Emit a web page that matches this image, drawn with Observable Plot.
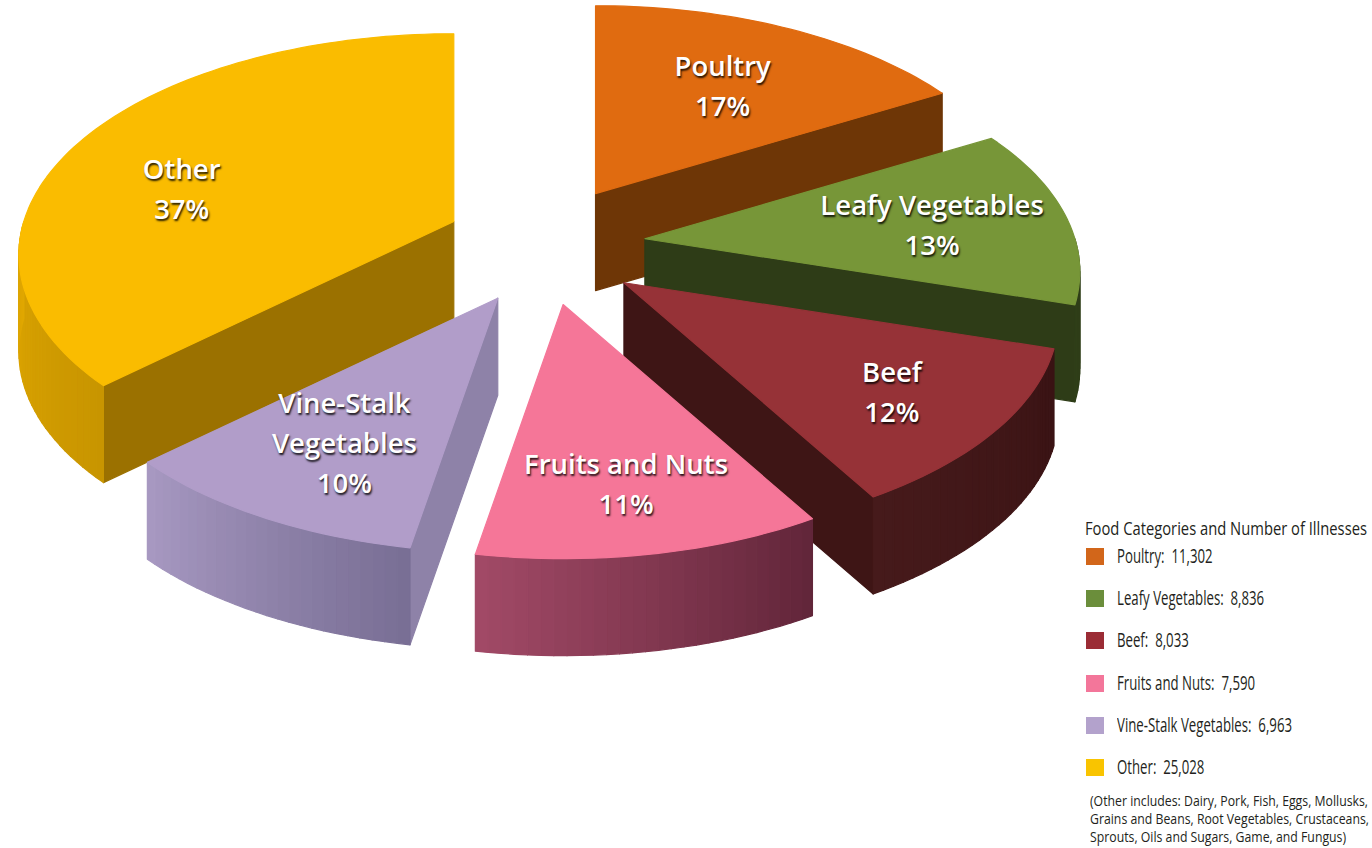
<!DOCTYPE html>
<html>
<head>
<meta charset="utf-8">
<script src="https://cdn.jsdelivr.net/npm/d3@7"></script>
<script src="https://cdn.jsdelivr.net/npm/@observablehq/plot@0.6"></script>
<style>
  html, body { margin: 0; padding: 0; background: #ffffff; }
  #wrap { position: relative; width: 1372px; height: 848px; overflow: hidden; background: #fff; }
  #wrap svg g[aria-label="text"] text { text-shadow: 1px 2px 2px rgba(0,0,0,0.85); }
  #legend { position: absolute; left: 0; top: 0; width: 1372px; height: 848px; pointer-events: none;
            font-family: "Open Sans", "Noto Sans", sans-serif; color: #231f20; }
  #legend .row { position: absolute; white-space: pre; }
  #legend .cond { display: inline-block; transform-origin: 0 50%; white-space: pre; }
  #legend .title { left: 1085px; font-size: 18px; line-height: 20px; }
  #legend .item { left: 1086px; height: 22px; font-size: 19.5px; line-height: 22px; }
  #legend .item .cond { position: absolute; left: 31px; top: 0; }
  #legend .sw { position: absolute; left: 0; top: 3px; width: 18px; height: 17px; }
  #legend .note { left: 1090px; font-size: 14px; line-height: 18px; }
</style>
</head>
<body>
<div id="wrap"><div id="legend"></div></div>
<script>
// ---------------- data ----------------
const categories = ["Poultry", "Leafy Vegetables", "Beef", "Fruits and Nuts", "Vine-Stalk Vegetables", "Other"];
const illnesses = [11302, 8836, 8033, 7590, 6963, 25028];
const sliceLabels = ["Poultry", "Leafy Vegetables", "Beef", "Fruits and Nuts", "Vine-Stalk\nVegetables", "Other"];
const legendTitle = "Food Categories and Number of Illnesses";
const noteLines = [
  "(Other includes: Dairy, Pork, Fish, Eggs, Mollusks,",
  "Grains and Beans, Root Vegetables, Crustaceans,",
  "Sprouts, Oils and Sugars, Game, and Fungus)"
];

// ---------------- styles ----------------
const topColors    = ["#e06b10", "#779638", "#963237", "#f57698", "#b19dc9", "#fabc00"];
const faceColors   = ["#6e3606", "#2e3c17", "#3e1515", "#f57698", "#8e82a8", "#9b7100"];
const wallDark     = ["#6e3606", "#2f3e18", "#3a1314", "#612539", "#786e94", "#c89500"];
const wallLight    = ["#6e3606", "#2f3e18", "#461a1b", "#a24a67", "#a899c2", "#e0a700"];
const legendColors = ["#d2661a", "#6b8e3b", "#9b2c35", "#f3769a", "#b3a2cc", "#f9c400"];
const labelRadius  = [0.64, 0.68, 0.74, 0.74, 0.68, 0.67];
const labelTurn    = [0, 0, 0, 0, 0, -9];   // degrees
const drawOrder = [0, 5, 1, 2, 4, 3];

// ---------------- geometry ----------------
const W = 1372, H = 848;
const CX = 545, CY = 245;      // pie centre
const EXPLODE = 100, EXPLODE_Y = 0.6;
const RX = 430, RY = 216, PERSP = 0.15, DEPTH = 97;

const arcs = d3.pie().sort(null).value(d => d)(illnesses);
const total = d3.sum(illnesses);

function local(r, a) {
  const z = r * Math.cos(a);
  const k = 1 / (1 + PERSP * z);
  return [r * RX * Math.sin(a) * k, -r * RY * Math.cos(a) * k];
}

const polys = [];
let pid = 0;
function addPoly(pts, fill) {
  const id = pid++;
  for (const [x, y] of pts) polys.push({id, x, y, fill});
}

const labels = [];
const STEP = Math.PI / 180 * 1.5;

for (const i of drawOrder) {
  const s = arcs[i].startAngle, e = arcs[i].endAngle, m = (s + e) / 2;
  const ax = CX + EXPLODE * Math.sin(m);
  const ay = CY - EXPLODE * EXPLODE_Y * Math.cos(m);
  const pt = (r, a, dz = 0) => { const [u, v] = local(r, a); return [ax + u, ay + v + dz]; };
  const apex = [ax, ay], apexB = [ax, ay + DEPTH];

  // radial faces (visible ones only)
  if (Math.sin(s) < -1e-6) addPoly([apex, pt(1, s), pt(1, s, DEPTH), apexB], faceColors[i]);
  if (Math.sin(e) > 1e-6) addPoly([apex, pt(1, e), pt(1, e, DEPTH), apexB], faceColors[i]);

  // outer wall, facing the viewer between 90° and 270°
  const lo = Math.max(s, Math.PI / 2), hi = Math.min(e, 3 * Math.PI / 2);
  if (hi > lo) {
    const n = Math.max(1, Math.ceil((hi - lo) / STEP));
    const col = d3.interpolateRgb(wallDark[i], wallLight[i]);
    for (let j = 0; j < n; j++) {
      const a0 = lo + (hi - lo) * j / n, a1 = lo + (hi - lo) * (j + 1) / n;
      addPoly([pt(1, a0), pt(1, a1), pt(1, a1, DEPTH), pt(1, a0, DEPTH)], col((j + 0.5) / n));
    }
  }

  // top face
  const top = [apex];
  const nt = Math.ceil((e - s) / STEP);
  for (let j = 0; j <= nt; j++) top.push(pt(1, s + (e - s) * j / nt));
  addPoly(top, topColors[i]);

  const [lx, ly] = pt(labelRadius[i], m + labelTurn[i] * Math.PI / 180);
  labels.push({x: lx, y: ly, text: sliceLabels[i] + "\n" + Math.round(illnesses[i] / total * 100) + "%"});
}

const chart = Plot.plot({
  width: W,
  height: H,
  margin: 0,
  x: {domain: [0, W], range: [0, W], axis: null},
  y: {domain: [0, H], range: [0, H], axis: null},
  color: {type: "identity"},
  style: {background: "#ffffff", overflow: "visible"},
  marks: [
    Plot.line(polys, {x: "x", y: "y", z: "id", fill: "fill", stroke: "fill", strokeWidth: 1.2, curve: "linear-closed"}),
    Plot.text(labels, {x: "x", y: "y", text: "text", fill: "white", fontSize: 27.5, fontWeight: 600,
                       fontFamily: "Open Sans", lineHeight: 1.45})
  ]
});
document.getElementById("wrap").insertBefore(chart, document.getElementById("legend"));

// ---------------- legend ----------------
const legend = document.getElementById("legend");
const fmt = d3.format(",");
function cond(text) { const s = document.createElement("span"); s.className = "cond"; s.textContent = text; return s; }
function fitGroup(spans, refSpan, targetWidth) {
  const w = refSpan.getBoundingClientRect().width;
  const k = Math.min(1, targetWidth / w);
  spans.forEach(s => s.style.transform = `scaleX(${k})`);
}

const t = document.createElement("div");
t.className = "row title"; t.style.top = "518px";
const titleSpan = cond(legendTitle);
t.appendChild(titleSpan);
legend.appendChild(t);

const itemSpans = [];
categories.forEach((c, i) => {
  const it = document.createElement("div");
  it.className = "row item";
  it.style.top = (545 + i * 42.2) + "px";
  const sw = document.createElement("span");
  sw.className = "sw"; sw.style.background = legendColors[i];
  it.appendChild(sw);
  const sp = cond(c + ":  " + fmt(illnesses[i]));
  itemSpans.push(sp);
  it.appendChild(sp);
  legend.appendChild(it);
});

const noteSpans = [];
noteLines.forEach((l, i) => {
  const n = document.createElement("div");
  n.className = "row note"; n.style.top = (792 + i * 18) + "px";
  const sp = cond(l);
  noteSpans.push(sp);
  n.appendChild(sp);
  legend.appendChild(n);
});

fitGroup([titleSpan], titleSpan, 282);
fitGroup(itemSpans, itemSpans[4], 175);
fitGroup(noteSpans, noteSpans[0], 278);
</script>
</body>
</html>
